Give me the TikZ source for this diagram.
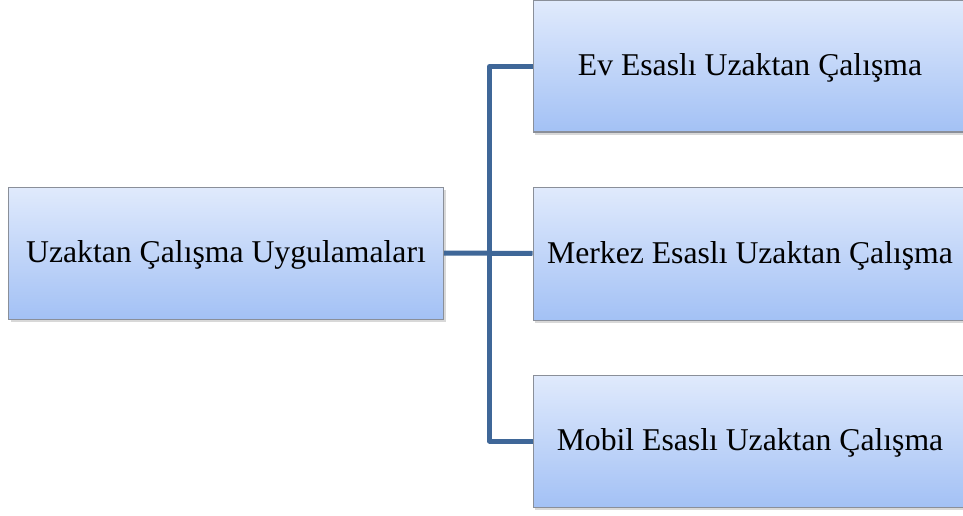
\documentclass[tikz,border=0pt]{standalone}
\usepackage{fontspec}
\setmainfont{Liberation Serif}
\usetikzlibrary{shadows}
\definecolor{boxtop}{HTML}{E0EAFC}
\definecolor{boxbot}{HTML}{A3C1F5}
\definecolor{boxline}{HTML}{8A8F99}
\definecolor{conn}{HTML}{3F6798}
\tikzset{
  box/.style={rectangle, draw=boxline, line width=1pt, top color=boxtop, bottom color=boxbot,
    minimum height=132pt, inner sep=0pt, font=\fontsize{31.7}{38}\selectfont,
    text height=25pt, text depth=6pt,
    drop shadow={opacity=0.3, shadow xshift=2pt, shadow yshift=-3pt}},
  conline/.style={draw=conn, line width=5pt, line join=round}
}
\begin{document}
\begin{tikzpicture}[x=1pt,y=-1pt]
\useasboundingbox (0,0) rectangle (963,516);
\clip (0,0) rectangle (963,516);
\fill[white] (0,0) rectangle (963,516);
\node[box, minimum width=435pt] (L) at (226,253) {Uzaktan Çalışma Uygulamaları};
\node[box, minimum width=434pt, minimum height=131pt] (R1) at (750,66.5) {Ev Esaslı Uzaktan Çalışma};
\node[box, minimum width=434pt, minimum height=133pt] (R2) at (750,253.5) {Merkez Esaslı Uzaktan Çalışma};
\node[box, minimum width=434pt] (R3) at (750,441) {Mobil Esaslı Uzaktan Çalışma};
\coordinate (J) at (489.5,253.5);
\draw[conline] (L.east) -- (R2.west);
\draw[conline] (R1.west) -| (J) |- (R3.west);
\end{tikzpicture}
\end{document}
